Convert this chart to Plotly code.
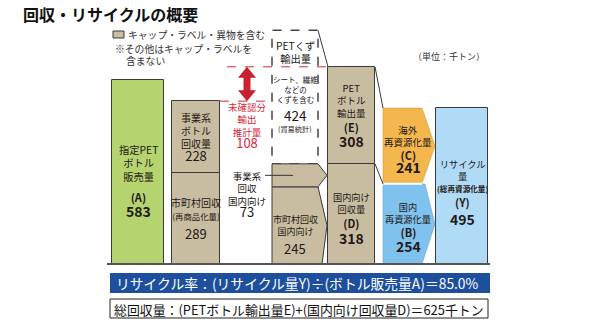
import plotly.graph_objects as go

# ---------------- data (単位: 千トン) ----------------
sales_A = 583              # 指定PETボトル販売量
business_bottle = 228      # 事業系ボトル回収量
municipal_recycled = 289   # 市町村回収(再商品化量)
unconfirmed_export = 108   # 未確認分輸出推計量
pet_scrap_export = 424     # PETくず輸出量
business_domestic = 73     # 事業系回収 国内向け
municipal_domestic = 245   # 市町村回収 国内向け
pet_export_E = 308         # PETボトル輸出量
domestic_D = 318           # 国内向け回収量
overseas_C = 241           # 海外再資源化量
domestic_B = 254           # 国内再資源化量
recycle_Y = 495            # リサイクル量
recycle_rate = 85.0
total_collection = 625

# ---------------- layout constants ----------------
W, H = 595, 325
BASE_PX = 264          # pixel row of value 0
K = 0.315              # pixels per 千トン
YMAX = BASE_PX / K
YMIN = -(H - BASE_PX) / K

FONT = "Noto Sans CJK JP"
INK = "#231815"
EDGE = "#3a3a3a"
GREEN = "#B5D470"
BEIGE = "#C9BDA1"
ORANGE = "#F4B74E"
BLUE_B = "#7FC2EE"
BLUE_Y = "#B0DBF7"
RED = "#D7283A"
NAVY = "#1D4F9C"

# column x extents (pixels)
colA = (112, 164)
col2 = (172, 220)
col4 = (272, 318)
col5 = (328, 375)
col6 = (383, 422)
col7 = (436, 488)

fig = go.Figure()


def bar(col, base, val, color):
    fig.add_trace(go.Bar(
        x=[(col[0] + col[1]) / 2], y=[val], base=[base], width=[col[1] - col[0]],
        marker=dict(color=color, line=dict(color=EDGE, width=1)),
        hoverinfo="skip", showlegend=False))


def poly(xs, ys, color, lw=1, lc=EDGE):
    fig.add_trace(go.Scatter(
        x=xs + [xs[0]], y=ys + [ys[0]], mode="lines", fill="toself",
        fillcolor=color, line=dict(color=lc, width=lw),
        hoverinfo="skip", showlegend=False))


def line(xs, ys, color=EDGE, width=1, dash="solid"):
    fig.add_trace(go.Scatter(
        x=xs, y=ys, mode="lines", line=dict(color=color, width=width, dash=dash),
        hoverinfo="skip", showlegend=False))


annotations = []


def txt(x, py, lines, size=10, color=INK, bold=False, xanchor="center"):
    """lines: list of str or (str, size, bold) tuples; line spacing = 1.3*size"""
    parts = []
    for ln in lines:
        if isinstance(ln, tuple):
            s, sz, b = ln
            s = f"<span style='font-size:{sz}px'>{s}</span>"
            if b:
                s = "<b>" + s + "</b>"
        else:
            s = ln
            if bold:
                s = "<b>" + s + "</b>"
        parts.append(s)
    annotations.append(dict(
        x=x, y=1 - py / H, xref="x", yref="paper", text="<br>".join(parts), showarrow=False,
        xanchor=xanchor, yanchor="middle", borderpad=0, align=xanchor if xanchor != "center" else "center",
        font=dict(family=FONT, size=size, color=color)))


# ---------- column A ----------
bar(colA, 0, sales_A, GREEN)

# ---------- column 2 ----------
bar(col2, 0, municipal_recycled, BEIGE)
bar(col2, municipal_recycled, business_bottle, BEIGE)

# ---------- column 4 ----------
d_top = business_domestic + municipal_domestic
poly([col4[0], col4[1] + 4, col4[1] + 9, col4[1], col4[0]],
     [0, 0, municipal_domestic / 2, municipal_domestic, municipal_domestic], BEIGE)
poly([col4[0], col4[1], col4[1] + 9, col4[1], col4[0]],
     [municipal_domestic, municipal_domestic, municipal_domestic + business_domestic / 2,
      d_top, d_top], BEIGE)

fig.add_shape(type="rect", xref="x", yref="y", x0=col4[0], x1=col4[1],
              y0=d_top, y1=d_top + pet_scrap_export,
              line=dict(color="#444444", width=1.5, dash="dash"), fillcolor="white", layer="below")

# ---------- column 5 ----------
bar(col5, 0, domestic_D, BEIGE)
bar(col5, domestic_D, pet_export_E, BEIGE)

# ---------- column 6 (arrows) ----------
tip = col6[1] + 13
poly([col6[0], col6[1], tip, col6[1] + 3, col6[0]],
     [0, 0, domestic_B / 2, domestic_B, domestic_B], BLUE_B, lw=0.5, lc="#5a9bd0")
poly([col6[0], col6[1], tip, col6[1], col6[0]],
     [domestic_B + 2, domestic_B + 2, domestic_B + overseas_C / 2, domestic_B + overseas_C,
      domestic_B + overseas_C], ORANGE, lw=0.5, lc="#c9902e")
line([col6[0], col6[1]], [domestic_B + 1, domestic_B + 1], "white", 2)

# ---------- column 7 ----------
bar(col7, 0, recycle_Y, BLUE_Y)

# ---------- connector lines ----------
E_top = domestic_D + pet_export_E
line([col4[1], col5[0]], [d_top + pet_scrap_export, E_top])
line([col5[1], col6[0]], [E_top, domestic_B + overseas_C])
line([col5[1], col6[0]], [domestic_D, domestic_B])

biz_top = municipal_recycled + business_bottle
line([227, col5[0]], [E_top, E_top], RED, 1, "dash")
line([col2[1], col4[0]], [biz_top, biz_top], RED, 1, "dash")

# red double arrow between the two levels (gap = unconfirmed export)
ax = 247
hl = 11 / K
hw, sw = 9, 3.5
poly([ax, ax + hw, ax + sw, ax + sw, ax + hw, ax, ax - hw, ax - sw, ax - sw, ax - hw],
     [E_top, E_top - hl, E_top - hl, biz_top + hl, biz_top + hl, biz_top,
      biz_top + hl, biz_top + hl, E_top - hl, E_top - hl], "#C8202E", lw=0, lc="#C8202E")

mid73 = municipal_domestic + business_domestic / 2
line([265, 293], [mid73, mid73], "#333333", 1)

line([107, 490], [0, 0], "#555555", 1.8)

# ---------- texts ----------
txt(22, 14, ["回収・リサイクルの概要"], 16, "#111111", True, "left")
txt(127, 35, ["キャップ・ラベル・異物を含む"], 9.8, "#333333", False, "left")
txt(114, 49, ["※その他はキャップ・ラベルを"], 9.8, "#333333", False, "left")
txt(125, 61, ["含まない"], 9.8, "#333333", False, "left")
txt(486, 57, ["（単位：千トン）"], 9, "#333333", False, "right")

# A
cx = sum(colA) / 2
txt(cx, 163, ["指定PET", "ボトル", "販売量"], 10.3)
txt(cx, 205, [("(A)", 11, True), ("583", 14, True)], 11.5)

# col2
cx = sum(col2) / 2
txt(cx, 137.5, ["事業系", "ボトル", "回収量", ("228", 13, False)], 10)
txt(cx, 208.5, ["市町村回収", ("(再商品化量)", 8.4, False)], 10)
txt(cx, 233, [str(municipal_recycled)], 13)

# red unconfirmed
txt(ax, 125.5, ["未確認分", "輸出", "推計量", ("108", 13, False)], 9.5, RED)

# business domestic label
txt(ax, 194.5, ["事業系", "回収", "国内向け", ("73", 13, False)], 9.5)

# dashed box
cx = sum(col4) / 2
txt(cx, 52, ["PETくず", "輸出量"], 10.3)
txt(cx, 89, ["シート、繊維", "などの", "くずを含む"], 7.5)
txt(cx, 115, [str(pet_scrap_export)], 13.5)
txt(cx, 129, ["(貿易統計)"], 7.2)

# 245 box
txt(cx, 225.5, ["市町村回収", "国内向け"], 9)
txt(cx, 248, [str(municipal_domestic)], 13)

# col5
cx = sum(col5) / 2
txt(cx, 101, ["PET", "ボトル", "輸出量"], 9.5)
txt(cx, 134.5, [("(E)", 11, True), ("308", 14, True)], 11.5)
txt(cx, 202.5, ["国内向け", "回収量"], 9.2)
txt(cx, 231.5, [("(D)", 11, True), ("318", 14, True)], 12.5)

# col6
cx = 408
txt(cx, 136, ["海外", "再資源化量"], 9.5)
txt(cx, 161.5, [("(C)", 11, True), ("241", 14, True)], 10.2)
txt(cx, 212.5, ["国内", "再資源化量"], 9.2)
txt(cx, 239.5, [("(B)", 11, True), ("254", 14, True)], 11.5)

# col7
cx = sum(col7) / 2
txt(cx, 175, ["リサイクル", "量", ("(総再資源化量)", 7.6, True)], 9.3)
txt(cx, 211, [("(Y)", 11, True), ("495", 14, True)], 13.8)

# legend swatch and bottom boxes
shapes = [
    dict(type="rect", xref="x", yref="paper", x0=113, x1=124, y0=1 - 38 / H, y1=1 - 31 / H,
         fillcolor=BEIGE, line=dict(color=EDGE, width=1)),
    dict(type="rect", xref="x", yref="paper", x0=110, x1=490, y0=1 - 293 / H, y1=1 - 273 / H,
         fillcolor=NAVY, line=dict(width=0)),
    dict(type="rect", xref="x", yref="paper", x0=110, x1=488, y0=1 - 318 / H, y1=1 - 299 / H,
         fillcolor="white", line=dict(color="#222222", width=1)),
]
txt(115, 283, [f"リサイクル率：(リサイクル量Y)÷(ボトル販売量A)＝{recycle_rate:.1f}%"], 13.8, "white", False, "left")
txt(113, 309, [f"総回収量：(PETボトル輸出量E)+(国内向け回収量D)＝{total_collection}千トン"], 12.9, "#111111", False, "left")

for s in shapes:
    fig.add_shape(**s)

fig.update_layout(
    width=W, height=H, autosize=False,
    margin=dict(l=0, r=0, t=0, b=0, pad=0),
    paper_bgcolor="white", plot_bgcolor="white",
    barmode="overlay", bargap=0,
    xaxis=dict(range=[0, W], visible=False, fixedrange=True),
    yaxis=dict(range=[YMIN, YMAX], visible=False, fixedrange=True),
    annotations=annotations,
    showlegend=False,
)

fig.write_html("out.html")
